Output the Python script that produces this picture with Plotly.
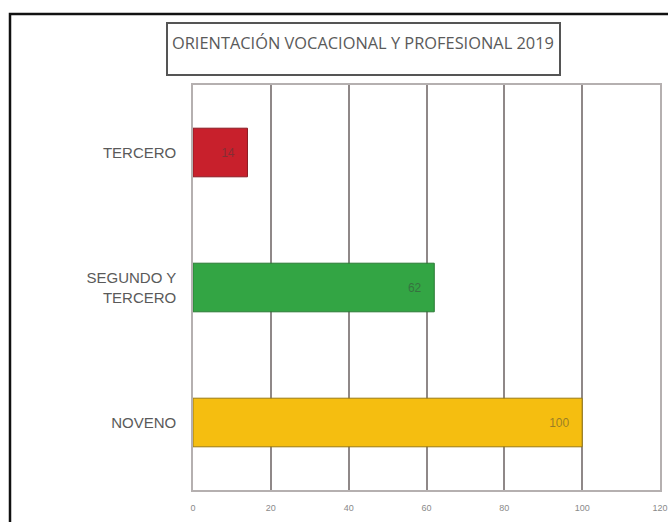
import plotly.graph_objects as go

# Data
categories = ["NOVENO", "SEGUNDO Y<br>TERCERO", "TERCERO"]
values = [100, 62, 14]
bar_colors = ["#f5be10", "#33a544", "#c8202c"]
edge_colors = ["#9a7a10", "#2a7a35", "#8a1a22"]
title_text = "ORIENTACIÓN VOCACIONAL Y PROFESIONAL 2019"

W, H = 668, 522
ml, mr, mt, mb = 193, 8, 85, 32
pw, ph = W - ml - mr, H - mt - mb


def px(x):
    return (x - ml) / pw


def py(y):
    return (H - mb - y) / ph


fig = go.Figure(
    go.Bar(
        x=values,
        y=categories,
        orientation="h",
        width=0.36,
        marker=dict(color=bar_colors, line=dict(color=edge_colors, width=1)),
        text=[f"{v}   " for v in values],
        textposition="inside",
        insidetextanchor="end",
        textfont=dict(family="Liberation Sans, Arial", size=12, color="rgba(60,60,60,0.5)"),
    )
)

fig.update_layout(
    width=W,
    height=H,
    margin=dict(l=ml, r=mr, t=mt, b=mb),
    paper_bgcolor="white",
    plot_bgcolor="white",
    showlegend=False,
    font=dict(family="Liberation Sans, Arial", color="#555"),
    xaxis=dict(
        range=[0, 120],
        dtick=20,
        showgrid=True,
        gridcolor="#8f8888",
        gridwidth=1.5,
        zeroline=False,
        showline=True,
        mirror=True,
        linecolor="#b5b0b0",
        linewidth=1.5,
        tickfont=dict(size=9, color="#8a8a8a"),
        ticklabelstandoff=8,
        automargin=False,
        fixedrange=True,
    ),
    yaxis=dict(
        categoryorder="array",
        categoryarray=categories,
        showgrid=False,
        zeroline=False,
        showline=True,
        mirror=True,
        linecolor="#b5b0b0",
        linewidth=1.5,
        tickfont=dict(size=15, color="#5a5a5a"),
        ticklabelstandoff=12,
        automargin=False,
        fixedrange=True,
    ),
    shapes=[
        # outer frame (cut off at right and bottom)
        dict(type="rect", xref="paper", yref="paper",
             x0=px(10), x1=px(W + 20), y0=py(H + 20), y1=py(14),
             line=dict(color="#111", width=2.5), layer="below"),
        # title box
        dict(type="rect", xref="paper", yref="paper",
             x0=px(167), x1=px(560), y0=py(75), y1=py(23),
             line=dict(color="#555", width=2)),
    ],
    annotations=[
        dict(text=title_text, xref="paper", yref="paper",
             x=px(170), y=py(42), xanchor="left", yanchor="middle",
             showarrow=False,
             font=dict(family="Open Sans, Noto Sans", size=16.4, color="#5a5a5a")),
    ],
)

# drop the default page margin so the figure sits at the window corner
fig.write_html("out.html", config={"displayModeBar": False},
               post_script="document.body.style.margin='0';")
